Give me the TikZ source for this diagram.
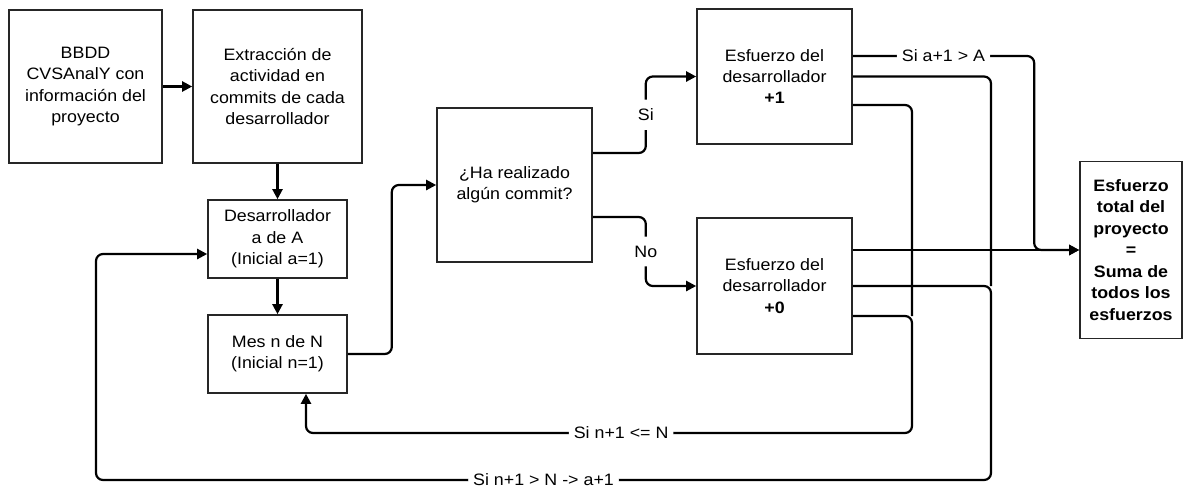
\documentclass[tikz,border=0pt]{standalone}
\usepackage{fontspec}
\setmainfont{Liberation Sans}[FakeStretch=1.08]
\usetikzlibrary{arrows.meta}
\begin{document}
\begin{tikzpicture}[x=1pt,y=-1pt,
    box/.style={draw=black!85, line width=1.6pt, align=center, inner sep=0pt,
      font=\fontsize{16.5}{21.3}\selectfont},
    link/.style={line width=2.2pt, rounded corners=7pt},
    arr/.style={link, -{Triangle[length=10pt,width=10pt]}},
    lbl/.style={fill=white, inner xsep=5pt, inner ysep=1pt, font=\fontsize{16.5}{21}\selectfont}]
  \useasboundingbox (0,0) rectangle (1183,488);
  \node[box, minimum width=153pt, minimum height=153pt] (bbdd) at (85.5,86.5)
    {BBDD\\CVSAnalY con\\información del\\proyecto};
  \node[box, minimum width=169pt, minimum height=153pt] (extr) at (277.5,86.5)
    {Extracción de\\actividad en\\commits de cada\\desarrollador};
  \node[box, minimum width=139pt, minimum height=78pt] (desa) at (277.5,239)
    {Desarrollador\\a de A\\(Inicial a=1)};
  \node[box, minimum width=139pt, minimum height=78pt] (mes) at (277.5,354)
    {Mes n de N\\(Inicial n=1)};
  \node[box, minimum width=155pt, minimum height=154pt] (ha) at (514.5,185)
    {¿Ha realizado\\algún commit?};
  \node[box, minimum width=155pt, minimum height=135pt] (e1) at (774.5,76.5)
    {Esfuerzo del\\desarrollador\\\textbf{+1}};
  \node[box, minimum width=155pt, minimum height=136pt] (e0) at (774.5,286)
    {Esfuerzo del\\desarrollador\\\textbf{+0}};
  \node[box, font=\fontsize{16.5}{21.5}\selectfont\bfseries,
    minimum width=102pt, minimum height=177pt] (total) at (1131,250)
    {Esfuerzo\\total del\\proyecto\\=\\Suma de\\todos los\\esfuerzos};
  % puertos y esquinas
  \coordinate (e1a) at ([yshift=20.5pt]e1.east);
  \coordinate (e1c) at ([yshift=-28.5pt]e1.east);
  \coordinate (e0a) at ([yshift=36pt]e0.east);
  \coordinate (e0c) at ([yshift=-30pt]e0.east);
  \coordinate (k1) at (991,480);
  \coordinate (k2) at (96,480);
  \coordinate (m1) at (912,433);
  \coordinate (m2) at (306,433);
  \begin{scope}[arr]
    \draw (bbdd) to (extr);
    \draw (extr) to (desa);
    \draw (desa) to (mes);
    \draw (mes.east) -- ++(44,0) |- (ha.west);
    \draw ([yshift=32pt]ha.east) -- ++(53,0) |- node[lbl, inner ysep=9pt, pos=0.25] {Si} (e1.west);
    \draw ([yshift=-32pt]ha.east) -- ++(53,0) |- node[lbl, inner ysep=9pt, pos=0.25] {No} (e0.west);
    \draw (e1a) -| node[lbl, pos=0.25] {Si a+1 > A} ([xshift=-45pt]total.west) -- (total.west);
    \draw (e0a) to (total.west);
    \draw (e0.east) -| (k1) -- node[lbl] {Si n+1 > N -> a+1} (k2) |- ([yshift=-15pt]desa.west);
    \draw (e0c) -| (m1) -- node[lbl, pos=0.48] {Si n+1 <= N} (m2) -- (m2 |- mes.south);
  \end{scope}
  \draw[link] (e1.east) -| (k1 |- e0.east);
  \draw[link] (e1c) -| (m1 |- e0c);
\end{tikzpicture}
\end{document}
